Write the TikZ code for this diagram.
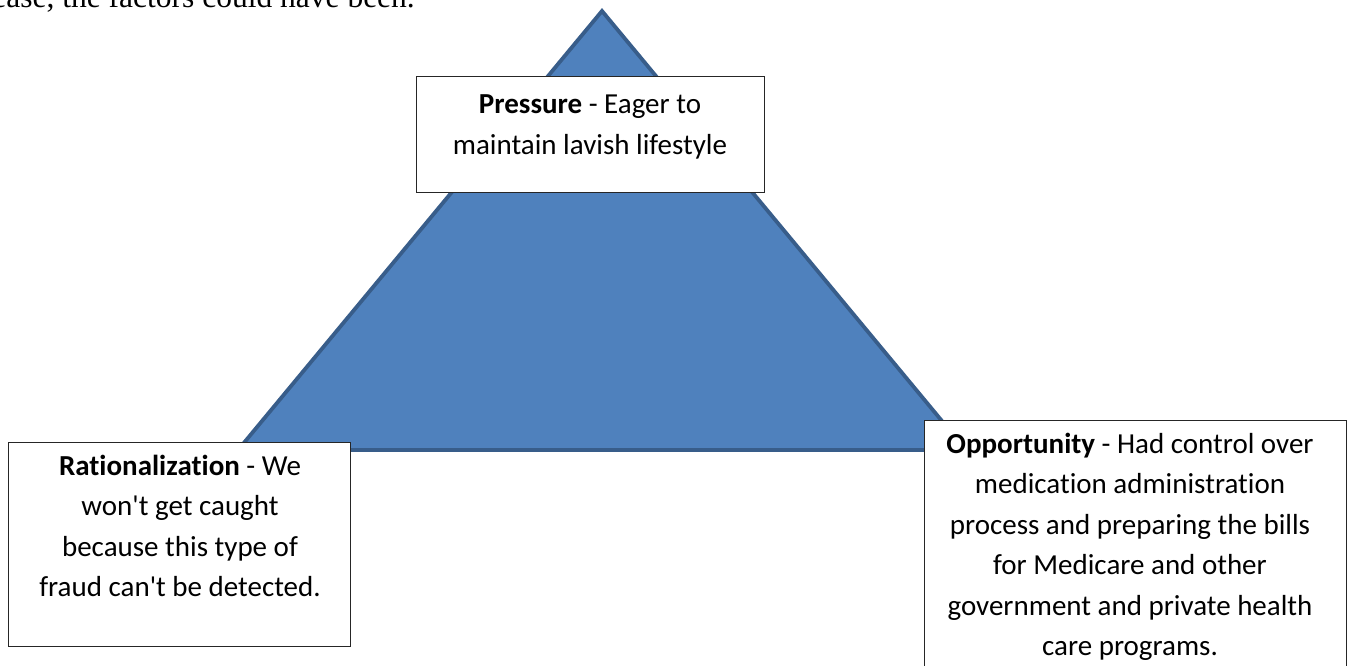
\documentclass[tikz,border=0pt]{standalone}
\usepackage{fontspec}
\setmainfont[Ligatures=NoCommon]{Carlito}
\newfontfamily\timesfont{Liberation Serif}
\definecolor{triFill}{HTML}{4F81BD}
\definecolor{triLine}{HTML}{385D8A}
\begin{document}
\begin{tikzpicture}[x=1pt,y=-1pt,
  textbox/.style={draw=black!85, line width=1.3pt, fill=white, inner sep=0pt, anchor=north west},
  boxtext/.style={inner sep=0pt, anchor=base, font=\fontsize{29}{40.5}\selectfont},
]
\useasboundingbox (0,0) rectangle (1350,666);
\clip (0,0) rectangle (1350,666);
\node[anchor=base east, inner sep=0pt, font=\timesfont\fontsize{31.5}{38}\selectfont] (intro) at (415,7.5) {ease, the factors could have been.};
\coordinate (apex) at (602,11);
\coordinate (right) at (966,450);
\coordinate (left) at (238,450);
\draw[fill=triFill, draw=triLine, line width=3.8pt] (apex) -- (right) -- (left) -- cycle;
\node[textbox, minimum width=348, minimum height=116] (pbox) at (416,76) {};
\node[textbox, minimum width=342, minimum height=204] (rbox) at (8,442) {};
\node[textbox, minimum width=422, minimum height=290] (obox) at (924,420) {};
\node[boxtext] (ptext) at (590,114) {\begin{tabular}[t]{@{}c@{}}\textbf{Pressure} - Eager to\\ maintain lavish lifestyle\end{tabular}};
\node[boxtext] (rtext) at (180,475) {\begin{tabular}[t]{@{}c@{}}\textbf{Rationalization} - We\\ won\textquotesingle t get caught\\ because this type of\\ fraud can\textquotesingle t be detected.\end{tabular}};
\node[boxtext] (otext) at (1130,453) {\begin{tabular}[t]{@{}c@{}}\textbf{Opportunity} - Had control over\\ medication administration\\ process and preparing the bills\\ for Medicare and other\\ government and private health\\ care programs.\end{tabular}};
\end{tikzpicture}
\end{document}
